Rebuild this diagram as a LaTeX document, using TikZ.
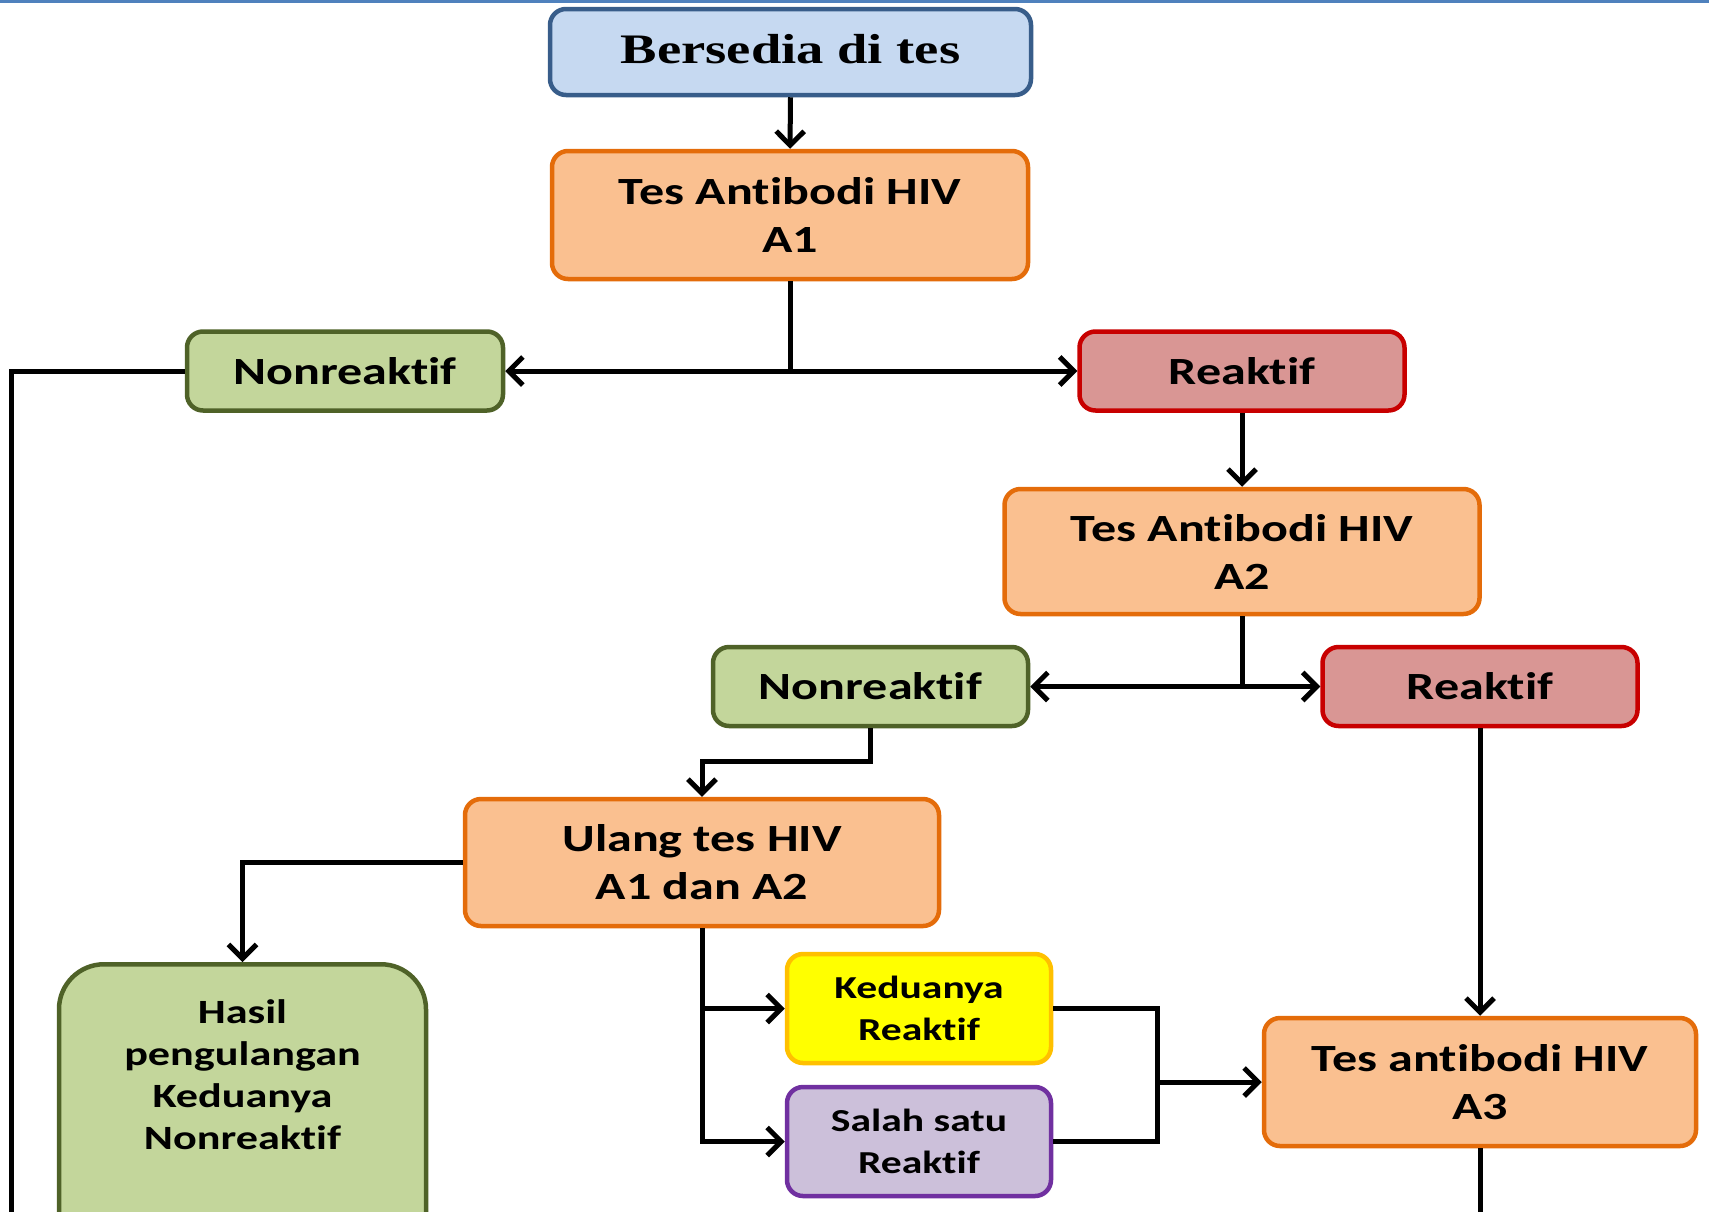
\documentclass[tikz,border=0pt]{standalone}
\usepackage{fontspec}
\setmainfont{Carlito}[FakeStretch=1.3, Ligatures=NoCommon]
\newfontfamily\titleserif{Liberation Serif}[FakeStretch=1.3]
\usetikzlibrary{arrows.meta}

\definecolor{blueFill}{HTML}{C6D9F1}
\definecolor{blueLine}{HTML}{385D8A}
\definecolor{orFill}{HTML}{FAC090}
\definecolor{orLine}{HTML}{E46C0A}
\definecolor{grFill}{HTML}{C3D69B}
\definecolor{grLine}{HTML}{4F6228}
\definecolor{rdFill}{HTML}{D99694}
\definecolor{rdLine}{HTML}{C80000}
\definecolor{ylFill}{HTML}{FFFF00}
\definecolor{ylLine}{HTML}{FFC000}
\definecolor{puFill}{HTML}{CCC0DA}
\definecolor{puLine}{HTML}{7030A0}
\definecolor{topLine}{HTML}{4F81BD}

\tikzset{
  box/.style={rectangle, rounded corners=16pt, line width=4.5pt, align=center,
    inner sep=0pt, font=\fontsize{38.5}{48}\selectfont\bfseries},
  bluebox/.style={box, fill=blueFill, draw=blueLine},
  testbox/.style={box, fill=orFill, draw=orLine},
  negbox/.style={box, fill=grFill, draw=grLine},
  posbox/.style={box, fill=rdFill, draw=rdLine},
  smallfont/.style={font=\fontsize{32}{42}\selectfont\bfseries},
  conn/.style={line width=5pt, black},
  arr/.style={conn, -{Straight Barb[length=14pt,width=28pt]}}
}

\begin{document}
\begin{tikzpicture}[x=1pt, y=-1pt]
\useasboundingbox (0,0) rectangle (1709,1211);
\draw[topLine, line width=3pt] (0,1) -- (1709,1);

% boxes
\node[bluebox, minimum width=481pt, minimum height=86pt, text depth=7pt,
      font=\fontsize{42}{50}\selectfont\titleserif\bfseries] (start) at (790.5,52) {Bersedia di tes};
\node[testbox, minimum width=476pt, minimum height=128pt] (a1) at (790,215) {Tes Antibodi HIV\\A1};
\node[negbox, minimum width=316pt, minimum height=79pt] (n1) at (345,371) {Nonreaktif};
\node[posbox, minimum width=325pt, minimum height=79pt] (r1) at (1242,371) {Reaktif};
\node[testbox, minimum width=475pt, minimum height=125pt] (a2) at (1242,551.5) {Tes Antibodi HIV\\A2};
\node[negbox, minimum width=315pt, minimum height=79pt] (n2) at (870.5,686.5) {Nonreaktif};
\node[posbox, minimum width=315pt, minimum height=79pt] (r2) at (1480,686.5) {Reaktif};
\node[testbox, minimum width=474pt, minimum height=127pt] (ulang) at (702,862.5) {Ulang tes HIV\\A1 dan A2};
\node[negbox, rounded corners=45pt, minimum width=367pt, minimum height=300pt, anchor=north] (hasil) at (242.5,962) {};
\node[align=center, font=\fontsize{34}{41.8}\selectfont\bfseries, anchor=north] (hasiltext) at (242.5,996.5)
     {Hasil\\pengulangan\\Keduanya\\Nonreaktif};
\node[box, smallfont, fill=ylFill, draw=ylLine, minimum width=264pt, minimum height=109pt] (ked) at (919,1008.5) {Keduanya\\Reaktif};
\node[box, smallfont, fill=puFill, draw=puLine, minimum width=264pt, minimum height=109pt] (salah) at (919,1141.5) {Salah satu\\Reaktif};
\node[testbox, minimum width=432pt, minimum height=128pt] (a3) at (1480,1082) {Tes antibodi HIV\\A3};

% connectors
\coordinate (leftend) at (11,1230);
\coordinate (merge) at (1157,1082);
\coordinate (a3end) at (1480,1230);

\draw[arr] (start.south) -- (a1.north);
\draw[arr] (a1.south) |- (n1.east);
\draw[arr] (a1.south) |- (r1.west);
\draw[conn] (n1.west) -| (leftend);
\draw[arr] (r1.south) -- (a2.north);
\draw[arr] (a2.south) |- (n2.east);
\draw[arr] (a2.south) |- (r2.west);
\draw[arr] (n2.south) -- ++(0,33) -| (ulang.north);
\draw[arr] (ulang.west) -| (hasil.north);
\draw[arr] (ulang.south) |- (ked.west);
\draw[arr] (ulang.south) |- (salah.west);
\draw[conn] (ked.east) -| (merge);
\draw[conn] (salah.east) -| (merge);
\draw[arr] (merge) -- (a3.west);
\draw[arr] (r2.south) -- (a3.north);
\draw[conn] (a3.south) -- (a3end);
\end{tikzpicture}
\end{document}
